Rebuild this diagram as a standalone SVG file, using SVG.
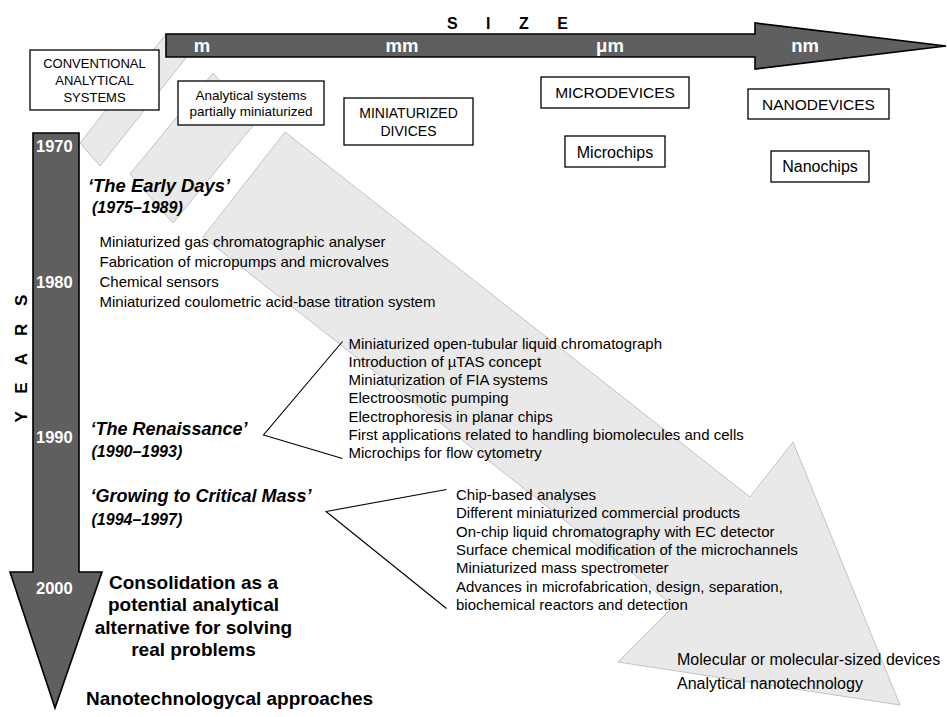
<svg xmlns="http://www.w3.org/2000/svg" width="947" height="717" viewBox="0 0 947 717">
<style>
.band{fill:#e9e9e9;stroke:#c2c2c2;stroke-width:1}
.dark{fill:#5f5f5f;stroke:#000;stroke-width:1.6;stroke-linejoin:miter}
.box{fill:#fff;stroke:#000;stroke-width:1.3}
.t{font-family:"Liberation Sans",Arial,sans-serif;fill:#000}
.w{font-family:"Liberation Sans",Arial,sans-serif;fill:#fff;font-weight:bold}
.bi{font-weight:bold;font-style:italic}
.b{font-weight:bold}
.c{text-anchor:middle}
.ln{stroke:#000;stroke-width:1.1;fill:none}
</style>
<rect width="947" height="717" fill="#fff"/>
<g id="bands">
<polygon class="band" points="80,143 100,166 205,34 166,34"/>
<polygon class="band" points="213,73 256,122 173,223 130,174"/>
<polygon class="band" points="285,132 750,497 793,442 900,705 618,662 674,606 203,237"/>
</g>
<g id="size-axis">
<polygon class="dark" points="166,34 755,34 755,23 946,46 755,69 755,57 166,57"/>
<text class="w c" x="202" y="52" font-size="18.5">m</text>
<text class="w c" x="402" y="52" font-size="18.5">mm</text>
<text class="w c" x="610" y="52" font-size="18.5">μm</text>
<text class="w c" x="805" y="52" font-size="18.5">nm</text>
<text class="t b" x="447" y="28.5" font-size="16" letter-spacing="12">S I Z E</text>
</g>
<g id="years-axis">
<polygon class="dark" points="33,133 79,133 79,572 102,572 55,708 10,572 33,572"/>
<text class="w" x="36" y="152" font-size="16.5">1970</text>
<text class="w" x="36" y="288" font-size="16.5">1980</text>
<text class="w" x="36" y="443" font-size="16.5">1990</text>
<text class="w" x="36" y="594" font-size="16.5">2000</text>
<text class="t b" transform="translate(26.5,422.5) rotate(-90)" font-size="17" letter-spacing="6.5">Y E A R S</text>
</g>
<g id="conventional">
<rect class="box" x="30" y="50" width="129" height="60"/>
<text class="t c" font-size="13"><tspan x="94.5" y="68">CONVENTIONAL</tspan><tspan x="94.5" y="85">ANALYTICAL</tspan><tspan x="94.5" y="101.5">SYSTEMS</tspan></text>
</g>
<g id="partial">
<rect class="box" x="178" y="81" width="146" height="44"/>
<text class="t c" font-size="13.5"><tspan x="251" y="100">Analytical systems</tspan><tspan x="251" y="115.5">partially miniaturized</tspan></text>
</g>
<g id="miniaturized">
<rect class="box" x="344" y="98" width="129" height="47"/>
<text class="t c" font-size="14"><tspan x="408.5" y="117.5">MINIATURIZED</tspan><tspan x="408.5" y="135.5">DIVICES</tspan></text>
</g>
<g id="microdevices">
<rect class="box" x="541" y="77" width="148" height="31"/>
<text class="t c" x="615" y="98" font-size="15.5">MICRODEVICES</text>
</g>
<g id="microchips">
<rect class="box" x="565" y="136" width="100" height="31"/>
<text class="t c" x="615" y="157.5" font-size="16">Microchips</text>
</g>
<g id="nanodevices">
<rect class="box" x="748" y="89" width="141" height="30"/>
<text class="t c" x="818.5" y="110" font-size="15.5">NANODEVICES</text>
</g>
<g id="nanochips">
<rect class="box" x="771" y="151" width="98" height="31"/>
<text class="t c" x="820" y="172" font-size="16">Nanochips</text>
</g>
<g id="early-days">
<text class="t bi" x="88" y="191.5" font-size="18.4">‘The Early Days’</text>
<text class="t bi" x="92" y="213" font-size="16">(1975–1989)</text>
<text class="t" font-size="15"><tspan x="99.5" y="246.5">Miniaturized gas chromatographic analyser</tspan><tspan x="99.5" y="266.5">Fabrication of micropumps and microvalves</tspan><tspan x="99.5" y="286.5">Chemical sensors</tspan><tspan x="99.5" y="306.5">Miniaturized coulometric acid-base titration system</tspan></text>
</g>
<g id="renaissance">
<text class="t bi" x="90.5" y="435" font-size="18">‘The Renaissance’</text>
<text class="t bi" x="91.5" y="456.5" font-size="16">(1990–1993)</text>
<text class="t" font-size="15"><tspan x="348.5" y="348.5">Miniaturized open-tubular liquid chromatograph</tspan><tspan x="348.5" y="366.8">Introduction of µTAS concept</tspan><tspan x="348.5" y="385.1">Miniaturization of FIA systems</tspan><tspan x="348.5" y="403.4">Electroosmotic pumping</tspan><tspan x="348.5" y="421.7">Electrophoresis in planar chips</tspan><tspan x="348.5" y="440">First applications related to handling biomolecules and cells</tspan><tspan x="348.5" y="458.3">Microchips for flow cytometry</tspan></text>
</g>
<g id="growing">
<text class="t bi" x="90.5" y="501.5" font-size="18">‘Growing to Critical Mass’</text>
<text class="t bi" x="91.5" y="525" font-size="16">(1994–1997)</text>
<text class="t" font-size="15"><tspan x="456" y="500">Chip-based analyses</tspan><tspan x="456" y="518.3">Different miniaturized commercial products</tspan><tspan x="456" y="536.6">On-chip liquid chromatography with EC detector</tspan><tspan x="456" y="554.9">Surface chemical modification of the microchannels</tspan><tspan x="456" y="573.2">Miniaturized mass spectrometer</tspan><tspan x="456" y="591.5">Advances in microfabrication, design, separation,</tspan><tspan x="456" y="609.8">biochemical reactors and detection</tspan></text>
</g>
<g id="consolidation">
<text class="t b c" font-size="19"><tspan x="193.5" y="588.5">Consolidation as a</tspan><tspan x="193.5" y="611">potential analytical</tspan><tspan x="193.5" y="633.5">alternative for solving</tspan><tspan x="193.5" y="656">real problems</tspan></text>
</g>
<g id="nanotech">
<text class="t b" x="86" y="705" font-size="19">Nanotechnologycal approaches</text>
</g>
<g id="molecular">
<text class="t" font-size="16"><tspan x="677" y="665">Molecular or molecular-sized devices</tspan><tspan x="677" y="688.5">Analytical nanotechnology</tspan></text>
</g>
<g id="connectors">
<polyline class="ln" points="342.5,341.5 263.5,435 342.5,458.5"/>
<polyline class="ln" points="446.5,489.5 326,511.5 446.5,608.5"/>
</g>
</svg>
